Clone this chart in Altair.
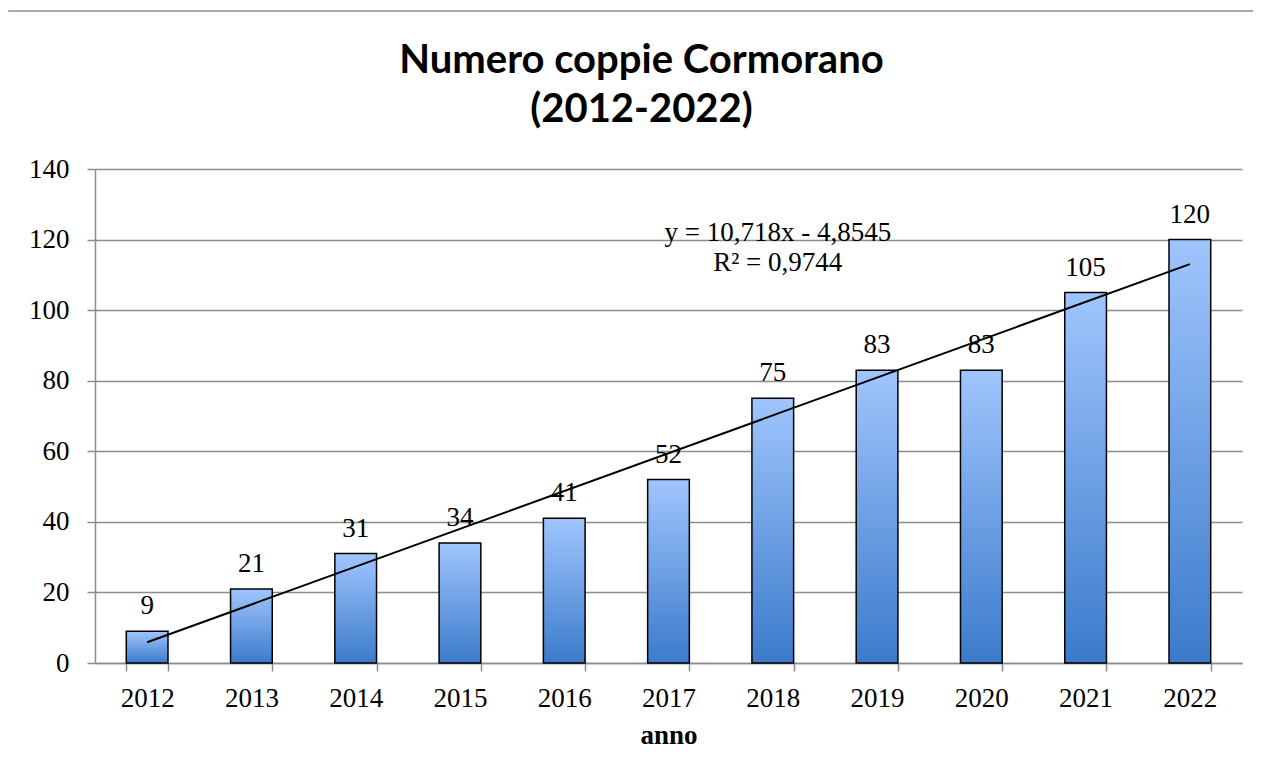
import altair as alt
import pandas as pd

# ---- data ----
years = ["2012", "2013", "2014", "2015", "2016", "2017", "2018", "2019", "2020", "2021", "2022"]
coppie = [9, 21, 31, 34, 41, 52, 75, 83, 83, 105, 120]
idx = list(range(1, 12))
y_ticks = [0, 20, 40, 60, 80, 100, 120, 140]
eq_labels = ["y = 10,718x - 4,8545", "R\u00b2 = 0,9744"]
eq_year = ["2018", "2018"]
eq_y = [122.0, 113.5]
title_lines = ["Numero coppie Cormorano", "(2012-2022)"]

df = pd.DataFrame({"anno": years, "coppie": coppie, "idx": idx})
eq = pd.DataFrame({"anno": eq_year, "y": eq_y, "t": eq_labels})
one = pd.DataFrame({"a": [0]})

serif = "Liberation Serif"
gray = "#8c8c8c"

gradient = alt.Gradient(
    gradient="linear",
    stops=[alt.GradientStop(color="#a0c5fd", offset=0),
           alt.GradientStop(color="#3b7bcb", offset=1)],
    x1=0, x2=0, y1=0, y2=1,
)

xband = alt.X(
    "anno:N",
    sort=years,
    scale=alt.Scale(paddingInner=0.6, paddingOuter=0.3),
    axis=alt.Axis(title="anno", labelAngle=0, tickBand="extent", tickSize=8,
                  labelPadding=14, titlePadding=11, titleFont=serif,
                  titleFontSize=27, titleFontWeight="bold", titleColor="black",
                  grid=False),
)
yq = alt.Y(
    "coppie:Q",
    scale=alt.Scale(domain=[0, 140], nice=False),
    axis=alt.Axis(values=y_ticks, title=None, tickSize=8, labelPadding=18,
                  grid=True),
)

bars = alt.Chart(df).mark_bar(color=gradient, stroke="black", strokeWidth=1.5).encode(
    x=xband, y=yq
)
vals = alt.Chart(df).mark_text(font=serif, fontSize=27, baseline="alphabetic",
                               dy=-17, color="black").encode(
    x=alt.X("anno:N", sort=years), y="coppie:Q", text="coppie:Q"
)
eqtext = alt.Chart(eq).mark_text(font=serif, fontSize=27, baseline="middle",
                                 align="center", dx=5, color="black").encode(
    x=alt.X("anno:N", sort=years), y="y:Q", text="t:N"
)
# outer chart frame: top edge only in this test
border_top = alt.Chart(one).mark_rect(fill=gray, strokeWidth=0).encode(
    x=alt.value(-86.75), x2=alt.value(1158), y=alt.value(-158.75), y2=alt.value(-157.25)
)

inner = alt.layer(border_top, bars, vals, eqtext)

trend = alt.Chart(df).transform_regression(
    "idx", "coppie", method="linear", extent=[1, 11]
).mark_line(color="black", strokeWidth=2).encode(
    x=alt.X("idx:Q", scale=alt.Scale(domain=[0.5, 11.5], nice=False, zero=False), axis=None),
    y=alt.Y("coppie:Q"),
)

chart = alt.layer(inner, trend).resolve_scale(x="independent").properties(
    width=1147,
    height=494,
    autosize="none",
    padding={"left": 87, "top": 161, "right": 11, "bottom": 95},
    title=alt.TitleParams(
        text=title_lines, font="Lato", fontSize=40, fontWeight="bold",
        lineHeight=49, anchor="middle", frame="group", dx=-27, offset=-120,
        color="black",
    ),
).configure_view(stroke=None).configure_axis(
    labelFont=serif, labelFontSize=27, labelColor="black",
    domainColor=gray, domainWidth=1.5, tickColor=gray, tickWidth=1.5,
    gridColor=gray, gridWidth=1.5,
)

chart.save("out.html", embed_options={"renderer": "svg", "actions": False})
